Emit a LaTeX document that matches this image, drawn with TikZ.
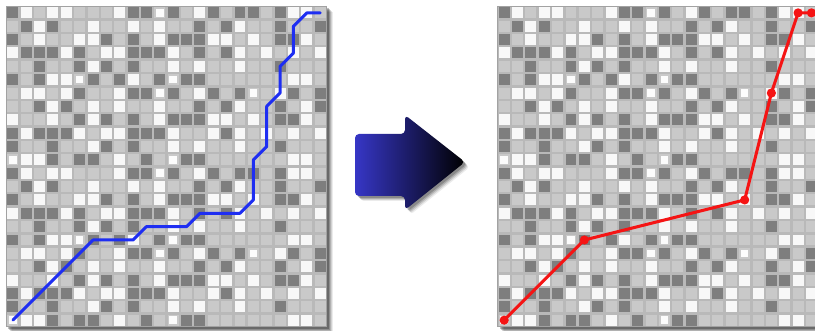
\documentclass[tikz,border=0pt]{standalone}
\definecolor{gap}{HTML}{B9B9B9}
\definecolor{edge}{HTML}{A2A2A2}
\definecolor{cD}{HTML}{7E7E7E}\definecolor{iD}{HTML}{7E7E7E}
\definecolor{cL}{HTML}{C9C9C9}\definecolor{iL}{HTML}{C9C9C9}
\definecolor{cW}{HTML}{F8F8F8}\definecolor{iW}{HTML}{F8F8F8}
\definecolor{cw}{HTML}{C9C9C9}\definecolor{iw}{HTML}{FCFCFC}
\definecolor{pathblue}{HTML}{1E2EF2}
\definecolor{pathred}{HTML}{F51414}
\definecolor{arrowL}{HTML}{3636C6}
\def\gridrows{%
{D,W,L,W,W,L,L,L,W,D,D,w,D,L,W,D,L,D,D,L,D,W,W,L},%
{L,D,W,D,L,L,W,L,L,W,L,W,L,L,D,L,D,W,L,L,D,L,L,D},%
{D,L,W,L,L,W,W,D,L,D,L,W,D,D,D,W,W,L,W,L,D,D,W,L},%
{W,D,D,D,W,D,L,W,W,D,D,D,W,L,D,L,D,W,L,W,L,W,L,W},%
{L,L,D,L,L,D,W,D,L,D,L,L,W,L,W,L,L,W,L,L,D,L,L,L},%
{D,L,D,W,W,w,D,L,D,W,L,D,w,D,D,L,L,L,L,L,L,W,W,L},%
{L,W,W,L,W,D,L,L,W,D,D,w,D,L,W,D,L,D,w,L,W,D,L,D},%
{L,L,D,W,D,L,W,L,W,L,L,W,L,L,D,L,D,W,L,L,D,L,W,D},%
{W,L,L,W,L,D,W,D,L,D,L,W,D,D,D,W,W,L,W,L,D,D,W,L},%
{D,W,D,D,D,W,L,W,W,D,D,D,W,L,L,W,D,W,L,W,L,W,L,W},%
{D,L,L,D,L,L,W,D,L,D,L,L,W,L,W,L,L,W,L,L,D,L,L,L},%
{w,W,W,D,L,D,D,L,W,L,D,L,w,D,D,L,L,L,L,L,L,W,W,L}}
\def\s{13.36}
\newcommand\mygrid[2]{%
  \foreach \k/\op in {6/0.08,5/0.11,4/0.15,3/0.2,2/0.25}
    {\fill[black,opacity=\op] (#1+\k,#2+\k) rectangle (#1+24*\s+\k,#2+24*\s+\k);}
  \fill[gap] (#1,#2) rectangle (#1+24*\s,#2+24*\s);
  \foreach \rr in {0,12}{%
    \foreach \rowlist [count=\r from 0] in \gridrows {%
      \foreach \x [count=\c from 0] in \rowlist {%
        \fill[fill=c\x] ({#1+\c*\s+1.2},{#2+(\r+\rr)*\s+1.2}) rectangle +(10.96,10.96);
        \fill[fill=i\x] ({#1+\c*\s+2.9},{#2+(\r+\rr)*\s+2.9}) rectangle +(7.56,7.56);
      }}}
  \draw[edge,line width=0.9pt] (#1,#2) rectangle (#1+24*\s,#2+24*\s);
}
\begin{document}
\begin{tikzpicture}[x=1pt,y=-1pt,
  bluepath/.style={pathblue,line width=3pt,line join=round,line cap=round},
  redpath/.style={pathred,line width=3pt,line join=round},
  reddot/.style={fill=pathred,draw=none}]
\useasboundingbox[fill=white] (0,0) rectangle (815,331);
\begin{scope}
\clip (0,0) rectangle (815,331);
% left grid
\mygrid{6.2}{6.2}
% right grid
\mygrid{497.5}{6.2}
\end{scope}
% blue path on left grid
\foreach \cc/\rw [count=\i] in {0/23,6/17,9/17,10/16,13/16,14/15,17/15,18/14,18/11,19/10,19/7,20/6,20/4,21/3,21/1,22/0,23/0}
  {\coordinate (b\i) at ({6.2+(\cc+0.5)*\s},{6.2+(\rw+0.5)*\s});}
\draw[bluepath] (b1) \foreach \i in {2,...,17}{-- (b\i)};
% red path on right grid
\foreach \cc/\rw [count=\i] in {0/23,6/17,18/14,20/6,22/0,23/0}
  {\coordinate (r\i) at ({497.5+(\cc+0.5)*\s},{6.2+(\rw+0.5)*\s});}
\draw[redpath] (r1) \foreach \i in {2,...,6}{-- (r\i)};
\foreach \i in {1,...,6}{\fill[reddot] (r\i) circle (4.6pt);}
% arrow shadow
\foreach \k/\op in {5/0.08,4/0.12,3/0.16,2/0.2}
  {\fill[black,opacity=\op,rounded corners=4pt,shift={(\k,\k)}]
    (355,134) -- (405,134) -- (405,115) -- (465,162) -- (405,210) -- (405,196) -- (355,196) -- cycle;}
% arrow
\shade[left color=arrowL,right color=black,rounded corners=4pt]
  (355,134) -- (405,134) -- (405,115) -- (465,162) -- (405,210) -- (405,196) -- (355,196) -- cycle;
\end{tikzpicture}
\end{document}
